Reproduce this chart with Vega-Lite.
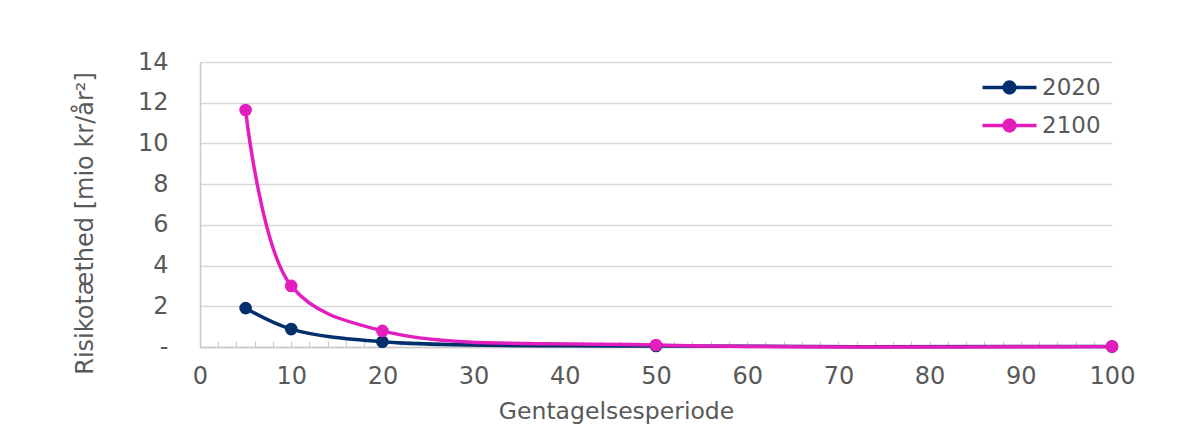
{
  "$schema": "https://vega.github.io/schema/vega-lite/v6.json",
  "width": 912,
  "height": 285,
  "autosize": "none",
  "padding": {"left": 200, "top": 62, "right": 77, "bottom": 81},
  "background": "white",
  "config": {"view": {"stroke": null}, "font": "DejaVu Sans"},
  "data": {
    "values": [
      {"periode": 5, "year": "2020", "value": 1.91},
      {"periode": 10, "year": "2020", "value": 0.88},
      {"periode": 20, "year": "2020", "value": 0.26},
      {"periode": 50, "year": "2020", "value": 0.05},
      {"periode": 100, "year": "2020", "value": 0.02},
      {"periode": 5, "year": "2100", "value": 11.64},
      {"periode": 10, "year": "2100", "value": 3.0},
      {"periode": 20, "year": "2100", "value": 0.79},
      {"periode": 50, "year": "2100", "value": 0.1},
      {"periode": 100, "year": "2100", "value": 0.03}
    ]
  },
  "encoding": {
    "x": {
      "field": "periode",
      "type": "quantitative",
      "scale": {"domain": [0, 100], "nice": false},
      "axis": {
        "title": "Gentagelsesperiode",
        "values": [0,2,4,6,8,10,12,14,16,18,20,22,24,26,28,30,32,34,36,38,40,42,44,46,48,50,52,54,56,58,60,62,64,66,68,70,72,74,76,78,80,82,84,86,88,90,92,94,96,98,100],
        "labelExpr": "datum.value % 10 == 0 ? datum.label : ''",
        "grid": false,
        "domainColor": "#c8c8c8",
        "domainWidth": 1.5,
        "tickColor": "#c8c8c8",
        "tickWidth": 1,
        "tickSize": -6,
        "labelFontSize": 24,
        "labelColor": "#595959",
        "labelBaseline": "alphabetic",
        "labelPadding": 42,
        "labelFlush": false,
        "labelOverlap": false,
        "titleFontSize": 23.5,
        "titleColor": "#595959",
        "titleFontWeight": "normal",
        "titleBaseline": "alphabetic",
        "titleX": 416,
        "titleY": 71
      }
    },
    "y": {
      "field": "value",
      "type": "quantitative",
      "scale": {"domain": [0, 14], "nice": false},
      "axis": {
        "title": "Risikotæthed [mio kr/år²]",
        "values": [0, 2, 4, 6, 8, 10, 12, 14],
        "labelExpr": "datum.value == 0 ? '-' : datum.label",
        "ticks": false,
        "domainColor": "#c8c8c8",
        "domainWidth": 1.5,
        "gridColor": "#d9d9d9",
        "gridWidth": 1.5,
        "labelFontSize": 24,
        "labelColor": "#595959",
        "labelPadding": 32,
        "titleFontSize": 24,
        "titleColor": "#595959",
        "titleFontWeight": "normal",
        "titleBaseline": "alphabetic",
        "titleX": -108,
        "titleY": 161
      }
    },
    "color": {
      "field": "year",
      "type": "nominal",
      "scale": {"domain": ["2020", "2100"], "range": ["#002F6C", "#E31DBE"]},
      "legend": {
        "title": null,
        "orient": "none",
        "legendX": 794,
        "legendY": 10,
        "padding": 0,
        "symbolType": "M-2,0H2M0.4,0A0.4,0.4,0,1,1,-0.4,0A0.4,0.4,0,1,1,0.4,0Z",
        "symbolSize": 729,
        "symbolStrokeWidth": 3.5,
        "labelFontSize": 23,
        "labelColor": "#595959",
        "labelOffset": 17,
        "rowPadding": 10,
        "encode": {
          "symbols": {
            "update": {
              "fill": {"scale": "color", "field": "value"},
              "stroke": {"scale": "color", "field": "value"},
              "opacity": {"value": 1}
            }
          }
        }
      }
    }
  },
  "layer": [
    {"mark": {"type": "line", "interpolate": "catmull-rom", "strokeWidth": 3.5}},
    {"mark": {"type": "point", "filled": true, "size": 160, "opacity": 1}}
  ]
}
